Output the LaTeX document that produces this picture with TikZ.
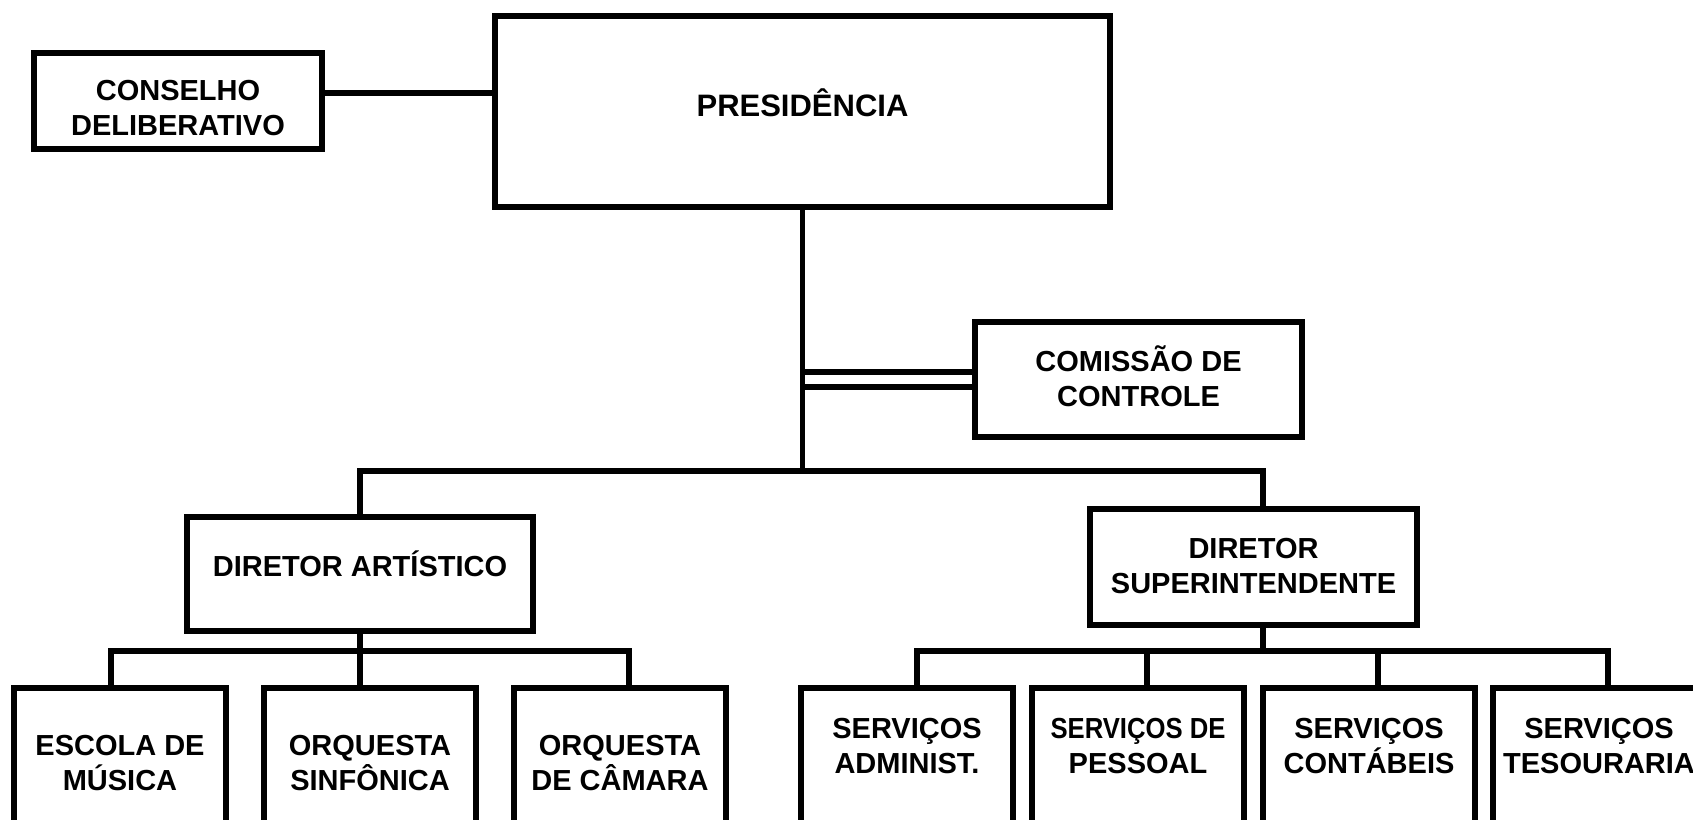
\documentclass[tikz,border=0pt]{standalone}
\usepackage{fontspec}
\setmainfont{Liberation Sans}
\usepackage{graphicx}
\newcommand\twoln[2]{\smash{#1}\\\smash{#2}}
\newcommand\narrow[1]{\scalebox{0.885}[1]{#1}}

\begin{document}
\begin{tikzpicture}[x=1pt,y=-1pt,line width=5.2pt,
    font=\bfseries\fontsize{29}{35}\selectfont,
    orgbox/.style={draw,rectangle,outer sep=0pt,inner sep=0pt},
    subbox/.style={orgbox,minimum width=212pt,minimum height=200pt},
    txt/.style={align=center,inner sep=0pt}]
    \useasboundingbox (0,0) rectangle (1693,819);
    \clip (0,0) rectangle (1693,819);
    \node[orgbox,minimum width=615pt,minimum height=191pt,
      label={[txt,yshift=-4.5pt,font=\bfseries\fontsize{31}{37}\selectfont]center:\smash{PRESIDÊNCIA}}] (pres) at (802.5,111.5) {};
    \node[orgbox,minimum width=288pt,minimum height=96pt,
      label={[txt,yshift=-16.5pt]center:{\twoln{CONSELHO}{DELIBERATIVO}}}] (cons) at (178,101) {};
    \node[orgbox,minimum width=327pt,minimum height=115pt,
      label={[txt,yshift=-9pt]center:{\twoln{COMISSÃO DE}{CONTROLE}}}] (com) at (1138.5,379.5) {};
    \node[orgbox,minimum width=346pt,minimum height=114pt,
      label={[txt,yshift=-2pt]center:\smash{DIRETOR ARTÍSTICO}}] (da) at (360,574) {};
    \node[orgbox,minimum width=327pt,minimum height=116pt,
      label={[txt,yshift=-9pt]center:{\twoln{DIRETOR}{SUPERINTENDENTE}}}] (ds) at (1253.5,567) {};
    \foreach \n/\x/\a/\b in {esc/120/ESCOLA DE/MÚSICA,sinf/370/ORQUESTA/SINFÔNICA,cam/620/ORQUESTA/DE CÂMARA}
      \node[subbox,label={[txt,yshift=15.5pt]center:{\twoln{\a}{\b}}}] (\n) at (\x,788) {};
    \foreach \n/\x/\a/\b in {adm/907/SERVIÇOS/ADMINIST.,pes/1138/\narrow{SERVIÇOS DE}/PESSOAL,cont/1369/SERVIÇOS/CONTÁBEIS,tes/1599/SERVIÇOS/TESOURARIA}
      \node[subbox,label={[txt,yshift=32.5pt]center:{\twoln{\a}{\b}}}] (\n) at (\x,788) {};

    \coordinate (ck) at ([yshift=8pt]cons.east);
    \draw (ck) -- (ck -| pres.west);
    \coordinate (c1) at ([yshift=7.5pt]com.west);
    \coordinate (c2) at ([yshift=-7.5pt]com.west);
    \draw (c1) -- (c1 -| pres.south);
    \draw (c2) -- (c2 -| pres.south);
    \coordinate (tl) at (360,471);
    \coordinate (tr) at (1263,471);
    \draw (pres.south) -- (pres.south |- tl);
    \draw (da.north) -- (tl) -- (tr) -- (tr |- ds.north);
    \coordinate (al) at (111,651);
    \coordinate (ar) at (629,651);
    \draw (al |- esc.north) -- (al) -- (ar) -- (ar |- cam.north);
    \draw (da.south) -- (da.south |- sinf.north);
    \coordinate (rl) at (917,651);
    \coordinate (r2) at (1147,651);
    \coordinate (r3) at (1378,651);
    \coordinate (rr) at (1608,651);
    \draw (rl |- adm.north) -- (rl) -- (rr) -- (rr |- tes.north);
    \draw (tr |- ds.south) -- (tr |- rl);
    \foreach \c/\n in {r2/pes,r3/cont}
      \draw (\c) -- (\c |- \n.north);
\end{tikzpicture}
\end{document}
